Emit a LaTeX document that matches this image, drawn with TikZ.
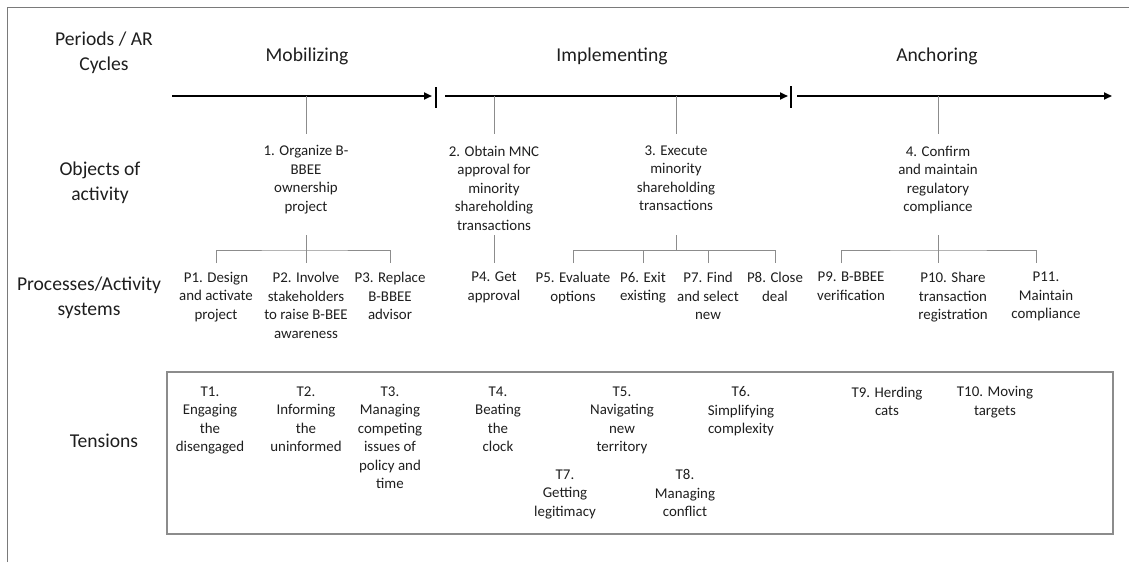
\documentclass[tikz,border=0pt]{standalone}
\usepackage{fontspec}
\setmainfont{Carlito}
\usetikzlibrary{arrows.meta}
\definecolor{txt}{HTML}{1E1E1E}
\definecolor{framec}{HTML}{7A7A7A}
\definecolor{linkc}{HTML}{8C8C8C}
\definecolor{boxc}{HTML}{8C8C8C}

\begin{document}
\begin{tikzpicture}[x=1pt,y=-1pt,
  biglabel/.style={font=\fontsize{19.6}{24.5}\selectfont, align=center, inner sep=0pt,
    anchor=north, text=txt, execute at begin node=\strut},
  smalllabel/.style={font=\fontsize{14.9}{18.5}\selectfont, align=center, inner sep=0pt,
    anchor=north, text=txt, execute at begin node=\strut},
  axis/.style={line width=2pt, black, -{Triangle[length=8pt,width=7pt]}},
  bar/.style={line width=2pt, black},
  link/.style={line width=0.9pt, linkc},
]
\useasboundingbox (0,0) rectangle (1129,562);

% outer frame
\draw[framec, line width=1pt] (7,562) -- (7,7) -- (1129,7);

% row and period headings
\node[biglabel] (hPer)  at (104,32)  {Periods / AR\\Cycles};
\node[biglabel] (hMob)  at (307,44)  {Mobilizing};
\node[biglabel] (hImp)  at (612,44)  {Implementing};
\node[biglabel] (hAnc)  at (937,44)  {Anchoring};
\node[biglabel] (hObj)  at (100,162) {Objects of\\activity};
\node[biglabel] (hProc) at (89,277)  {Processes/Activity\\systems};
\node[biglabel] (hTen)  at (104,430) {Tensions};

% timeline
\coordinate (s1a) at (172,96);  \coordinate (s1b) at (432,96);
\coordinate (s2a) at (445,96);  \coordinate (s2b) at (788,96);
\coordinate (s3a) at (797,96);  \coordinate (s3b) at (1112,96);
\draw[axis] (s1a) -- (s1b);
\draw[axis] (s2a) -- (s2b);
\draw[axis] (s3a) -- (s3b);
\draw[bar] (436,87) -- (436,108);
\draw[bar] (791,86) -- (791,108);

% objects of activity
\node[smalllabel] (o1) at (306,145.5) {1. Organize B-\\BBEE\\ownership\\project};
\node[smalllabel] (o2) at (494,145.5) {2. Obtain MNC\\approval for\\minority\\shareholding\\transactions};
\node[smalllabel] (o3) at (676,145.5) {3. Execute\\minority\\shareholding\\transactions};
\node[smalllabel] (o4) at (938,145.5) {4. Confirm\\and maintain\\regulatory\\compliance};

% processes / activity systems
\node[smalllabel] (p1)  at (216,272)  {P1. Design\\and activate\\project};
\node[smalllabel] (p2)  at (306,272)  {P2. Involve\\stakeholders\\to raise B-BEE\\awareness};
\node[smalllabel] (p3)  at (390,272)  {P3. Replace\\B-BBEE\\advisor};
\node[smalllabel] (p4)  at (494,272)  {P4. Get\\approval};
\node[smalllabel] (p5)  at (573,272)  {P5. Evaluate\\options};
\node[smalllabel] (p6)  at (643,272)  {P6. Exit\\existing};
\node[smalllabel] (p7)  at (708,272)  {P7. Find\\and select\\new};
\node[smalllabel] (p8)  at (775,272)  {P8. Close\\deal};
\node[smalllabel] (p9)  at (851,272)  {P9. B-BBEE\\verification};
\node[smalllabel] (p10) at (953,272)  {P10. Share\\transaction\\registration};
\node[smalllabel] (p11) at (1046,272) {P11.\\Maintain\\compliance};

% links from the timeline to the objects
\foreach \o in {o1,o2,o3,o4}
  \draw[link] (\o.north |- s1a) -- ([yshift=11.5pt]\o.north);

% links from the objects to the processes
\draw[link] (o1.north |- 0,235) -- ([yshift=9pt]p2.north);
\draw[link] ([yshift=9pt]p1.north) |- (o1.north |- 0,250) -| ([yshift=9pt]p3.north);
\draw[link] (o2.north |- 0,235) -- ([yshift=9pt]p4.north);
\draw[link] (o3.north |- 0,235) -- (o3.north |- 0,250);
\draw[link] ([yshift=9pt]p5.north) |- (p8.north |- 0,250) -- ([yshift=9pt]p8.north);
\draw[link] ([yshift=9pt]p6.north) -- (p6.north |- 0,250);
\draw[link] ([yshift=9pt]p7.north) -- (p7.north |- 0,250);
\draw[link] (o4.north |- 0,235) -- (o4.north |- 0,263);
\draw[link] ([xshift=-10pt,yshift=9pt]p9.north) |- (o4.north |- 0,250)
  -| ([xshift=-10pt,yshift=9pt]p11.north);

% tensions
\draw[boxc, line width=1.3pt] (167,372) rectangle (1113,534);
\node[smalllabel] (t1)  at (210,386.5) {T1.\\Engaging\\the\\disengaged};
\node[smalllabel] (t2)  at (306,386.5) {T2.\\Informing\\the\\uninformed};
\node[smalllabel] (t3)  at (390,386.5) {T3.\\Managing\\competing\\issues of\\policy and\\time};
\node[smalllabel] (t4)  at (498,386.5) {T4.\\Beating\\the\\clock};
\node[smalllabel] (t5)  at (622,386.5) {T5.\\Navigating\\new\\territory};
\node[smalllabel] (t6)  at (741,386.5) {T6.\\Simplifying\\complexity};
\node[smalllabel] (t7)  at (565,469.5) {T7.\\Getting\\legitimacy};
\node[smalllabel] (t8)  at (685,469.5) {T8.\\Managing\\conflict};
\node[smalllabel] (t9)  at (887,386.5) {T9. Herding\\cats};
\node[smalllabel] (t10) at (995,386.5) {T10. Moving\\targets};
\end{tikzpicture}
\end{document}
